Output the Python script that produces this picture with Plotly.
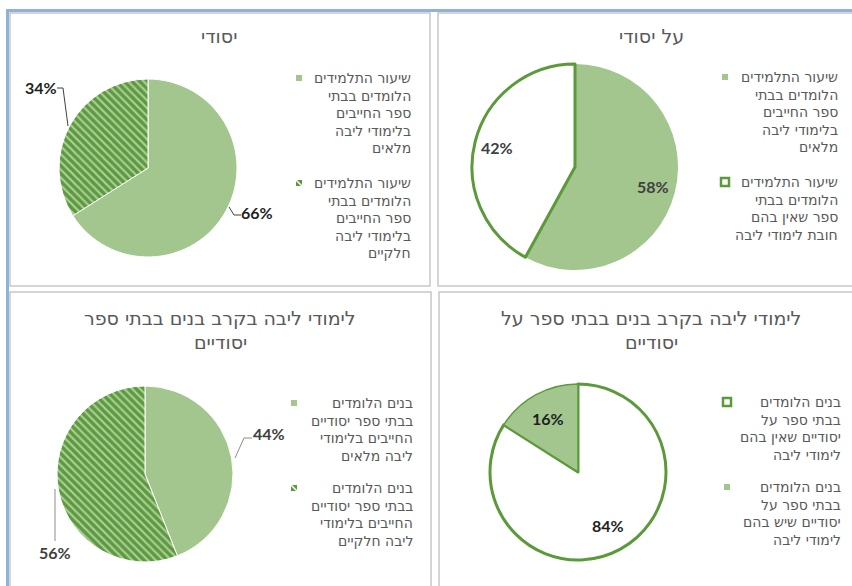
import math
import plotly.graph_objects as go

W, H = 852, 586

# ---------------- data ----------------
tl_title = "יסודי"
tl_labels = ["שיעור התלמידים הלומדים בבתי ספר החייבים בלימודי ליבה מלאים",
             "שיעור התלמידים הלומדים בבתי ספר החייבים בלימודי ליבה חלקיים"]
tl_legend = [["שיעור התלמידים", "הלומדים בבתי", "ספר החייבים", "בלימודי ליבה", "מלאים"],
             ["שיעור התלמידים", "הלומדים בבתי", "ספר החייבים", "בלימודי ליבה", "חלקיים"]]
tl_values = [66, 34]

tr_title = "על יסודי"
tr_labels = ["שיעור התלמידים הלומדים בבתי ספר החייבים בלימודי ליבה מלאים",
             "שיעור התלמידים הלומדים בבתי ספר שאין בהם חובת לימודי ליבה"]
tr_legend = [["שיעור התלמידים", "הלומדים בבתי", "ספר החייבים", "בלימודי ליבה", "מלאים"],
             ["שיעור התלמידים", "הלומדים בבתי", "ספר שאין בהם", "חובת לימודי ליבה"]]
tr_values = [58, 42]

bl_title = ["לימודי ליבה בקרב בנים בבתי ספר", "יסודיים"]
bl_labels = ["בנים הלומדים בבתי ספר יסודיים החייבים בלימודי ליבה מלאים",
             "בנים הלומדים בבתי ספר יסודיים החייבים בלימודי ליבה חלקיים"]
bl_legend = [["בנים הלומדים", "בבתי ספר יסודיים", "החייבים בלימודי", "ליבה מלאים"],
             ["בנים הלומדים", "בבתי ספר יסודיים", "החייבים בלימודי", "ליבה חלקיים"]]
bl_values = [44, 56]

br_title = ["לימודי ליבה בקרב בנים בבתי ספר על", "יסודיים"]
br_labels = ["בנים הלומדים בבתי ספר על יסודיים שאין בהם לימודי ליבה",
             "בנים הלומדים בבתי ספר על יסודיים שיש בהם לימודי ליבה"]
br_legend = [["בנים הלומדים", "בבתי ספר על", "יסודיים שאין בהם", "לימודי ליבה"],
             ["בנים הלומדים", "בבתי ספר על", "יסודיים שיש בהם", "לימודי ליבה"]]
br_values = [84, 16]

# ---------------- style ----------------
LIGHT = "#A3C68E"
DARK = "#5B9A3B"
TXT = "#595959"
LBL = "#404040"
BLK = "#1f1f1f"
FONT = "DejaVu Sans, Open Sans, Liberation Sans, sans-serif"
LBLFONT = "Lato, Open Sans, DejaVu Sans, sans-serif"
LEG_SIZE = 14
LINE_STEP = 17.6


def px(x):
    return x / W


def py(y):
    return 1 - y / H


def dom(cx, cy, r):
    return dict(x=[px(cx - r), px(cx + r)], y=[py(cy + r), py(cy - r)])


HATCH = dict(shape=["", "\\"], fgcolor="white", fillmode="overlay", size=5.5, solidity=0.4)

fig = go.Figure()

# top-left: filled + hatched
fig.add_trace(go.Pie(
    labels=tl_labels, values=tl_values, domain=dom(148, 168, 89),
    sort=False, direction="clockwise", rotation=0,
    marker=dict(colors=[LIGHT, DARK], line=dict(color="white", width=1), pattern=HATCH),
    textinfo="none", showlegend=False, hoverinfo="label+percent"))

# top-right: filled + outlined white
fig.add_trace(go.Pie(
    labels=tr_labels, values=tr_values, domain=dom(575, 167, 103),
    sort=False, direction="clockwise", rotation=0,
    marker=dict(colors=[LIGHT, "white"], line=dict(color=[LIGHT, DARK], width=[0, 3])),
    textinfo="none", showlegend=False, hoverinfo="label+percent"))

# bottom-left: filled + hatched
fig.add_trace(go.Pie(
    labels=bl_labels, values=bl_values, domain=dom(145, 474, 88),
    sort=False, direction="clockwise", rotation=0,
    marker=dict(colors=[LIGHT, DARK], line=dict(color="white", width=1), pattern=HATCH),
    textinfo="none", showlegend=False, hoverinfo="label+percent"))

# bottom-right: outlined white + filled
fig.add_trace(go.Pie(
    labels=br_labels, values=br_values, domain=dom(578, 472, 88),
    sort=False, direction="clockwise", rotation=0,
    marker=dict(colors=["white", LIGHT], line=dict(color=[DARK, DARK], width=[3, 1.5])),
    textinfo="none", showlegend=False, hoverinfo="label+percent"))

shapes = []
ann = []

# outer blue frame
shapes.append(dict(type="line", xref="paper", yref="paper", x0=px(6), x1=1.01,
                   y0=py(10.5), y1=py(10.5), line=dict(color="#8DB3D6", width=3)))
shapes.append(dict(type="line", xref="paper", yref="paper", x0=px(7.5), x1=px(7.5),
                   y0=py(9), y1=-0.01, line=dict(color="#8DB3D6", width=3)))

# panel frames
for (x0, y0, x1, y1) in [(10, 13, 430, 286), (438, 13, 860, 286),
                         (10, 292, 431, 600), (439, 292, 860, 600)]:
    shapes.append(dict(type="rect", xref="paper", yref="paper",
                       x0=px(x0), x1=px(x1), y0=py(y1), y1=py(y0),
                       line=dict(color="#C8C8C8", width=1.5), fillcolor="rgba(0,0,0,0)"))


# titles
def title(lines, cx, first_cy, step=24):
    for i, line in enumerate(lines):
        ann.append(dict(xref="paper", yref="paper", x=px(cx), y=py(first_cy + i * step),
                        xanchor="center", yanchor="middle", text=line, showarrow=False,
                        font=dict(family=FONT, size=19, color=TXT)))


title([tl_title], 219, 36)
title([tr_title], 651, 36)
title(bl_title, 220, 318)
title(br_title, 651, 318)


# data labels
def label_at(text, x, y, color):
    ann.append(dict(xref="paper", yref="paper", x=px(x), y=py(y), xanchor="center",
                    yanchor="middle", text=text, showarrow=False,
                    font=dict(family=LBLFONT, size=16, color=color, weight="bold")))


def inside_labels(values, cx, cy, r, k, color):
    total = float(sum(values))
    cum = 0.0
    for v in values:
        mid = (cum + v / 2) / total * 2 * math.pi
        cum += v
        label_at(f"{v}%", cx + k * r * math.sin(mid), cy - k * r * math.cos(mid), color)


def leader(points, color):
    path = "M " + " L ".join(f"{px(x)},{py(y)}" for x, y in points)
    shapes.append(dict(type="path", xref="paper", yref="paper", path=path,
                       line=dict(color=color, width=1)))


inside_labels(tr_values, 575, 167, 103, 0.78, LBL)
inside_labels(br_values, 578, 472, 88, 0.7, BLK)

# outside labels with leader lines (Excel best-fit placement)
label_at(f"{tl_values[0]}%", 257, 213, BLK)
leader([(241, 215), (234, 215), (229, 207)], "#404040")
label_at(f"{tl_values[1]}%", 41, 87, BLK)
leader([(57, 88), (63, 88), (68, 126)], "#404040")
label_at(f"{bl_values[0]}%", 269, 433, LBL)
leader([(252, 438), (244, 438), (235, 458)], "#8c8c8c")
label_at(f"{bl_values[1]}%", 55, 552, LBL)
leader([(55, 541), (55, 489)], "#8c8c8c")


# legends
def legend(items, x_right, first_cys, sym_x, kinds):
    for lines, cy0, kind in zip(items, first_cys, kinds):
        for i, line in enumerate(lines):
            ann.append(dict(xref="paper", yref="paper", x=px(x_right),
                            y=py(cy0 + i * LINE_STEP), xanchor="right", yanchor="middle",
                            text=line, showarrow=False,
                            font=dict(family=FONT, size=LEG_SIZE, color=TXT)))
        cy = cy0
        if kind == "outline":
            s = 8
            shapes.append(dict(type="rect", xref="paper", yref="paper",
                               x0=px(sym_x - s / 2), x1=px(sym_x + s / 2),
                               y0=py(cy + s / 2), y1=py(cy - s / 2),
                               fillcolor="white", line=dict(color=DARK, width=2.5)))
        else:
            s = 6
            col = LIGHT if kind == "fill" else DARK
            shapes.append(dict(type="rect", xref="paper", yref="paper",
                               x0=px(sym_x - s / 2), x1=px(sym_x + s / 2),
                               y0=py(cy + s / 2), y1=py(cy - s / 2),
                               fillcolor=col, line=dict(width=0)))
            if kind == "hatch":
                shapes.append(dict(type="line", xref="paper", yref="paper",
                                   x0=px(sym_x - s / 2), x1=px(sym_x + s / 2),
                                   y0=py(cy - s / 2), y1=py(cy + s / 2),
                                   line=dict(color="white", width=1.5)))


legend(tl_legend, 413, [78, 183], 299, ["fill", "hatch"])
legend(tr_legend, 840, [77, 182], 725, ["fill", "outline"])
legend(bl_legend, 415, [403, 488], 294, ["fill", "hatch"])
legend(br_legend, 843, [402, 487], 727, ["outline", "fill"])

fig.update_layout(width=W, height=H, margin=dict(l=0, r=0, t=0, b=0),
                  paper_bgcolor="white", plot_bgcolor="white",
                  shapes=shapes, annotations=ann, showlegend=False)

fig.write_html("out.html", config={"displayModeBar": False},
               post_script="document.body.style.margin='0';document.body.style.overflow='hidden';")
